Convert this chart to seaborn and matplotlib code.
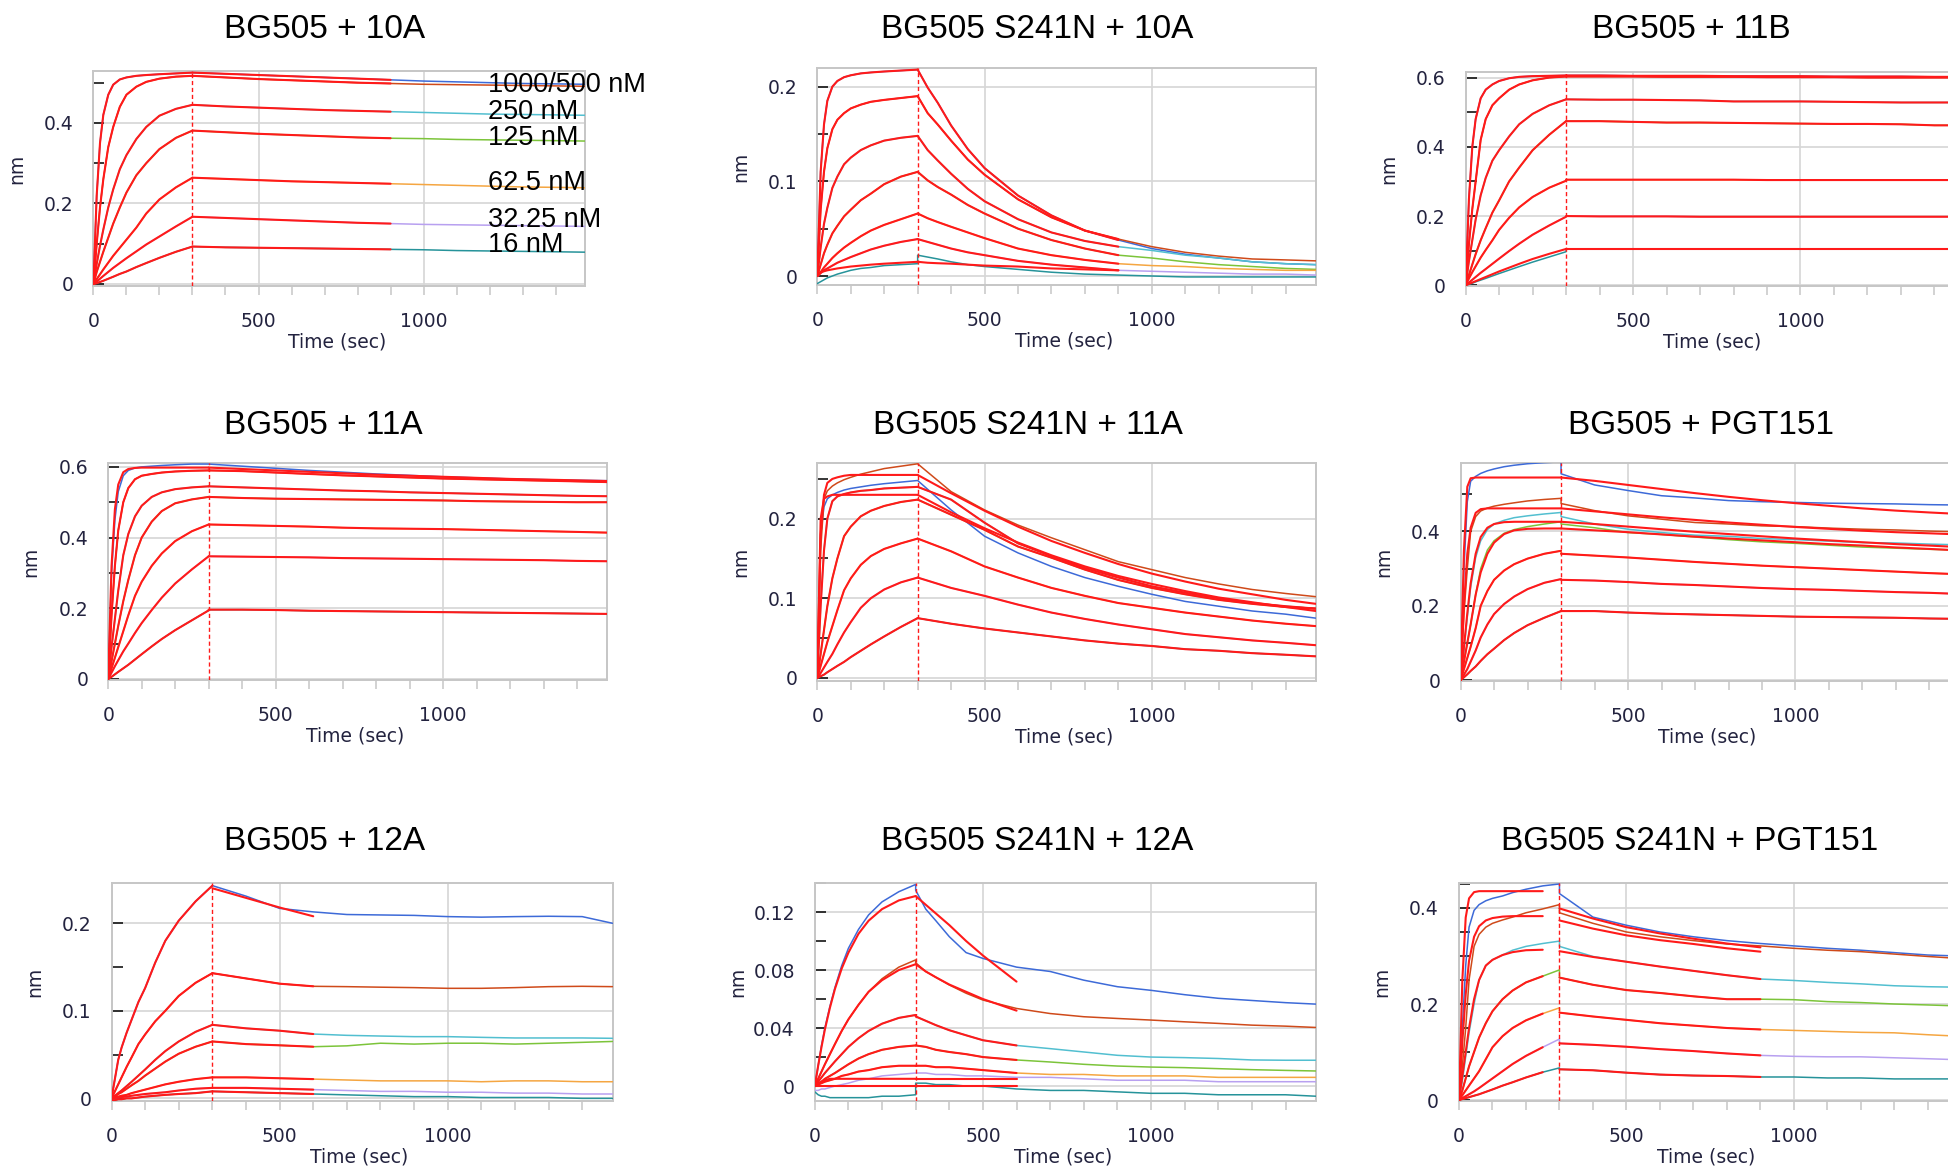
import matplotlib
matplotlib.use("Agg")
import matplotlib.pyplot as plt
from matplotlib.ticker import MultipleLocator, FuncFormatter
import seaborn as sns

# time grids (sec): association phase, then dissociation phase
T_ASSOC = [0, 10, 20, 30, 45, 60, 80, 100, 130, 160, 200, 250, 300]
T_DISSOC = [300, 400, 500, 600, 700, 800, 900, 1000, 1100, 1200, 1300, 1400, 1490]
# finer dissociation grid for the fast off-rate panels
T_DISSOC_FAST = [300, 330, 360, 400, 450, 500, 600, 700, 800, 900, 1000, 1100, 1200, 1300, 1400, 1490]

# curve order in every panel: blue, brown, cyan, green, orange, lavender, teal
CURVE_COLORS = ["#3d6ad8", "#cf4a1a", "#52bfd0", "#7cc43a", "#f5a641", "#b8a0f0", "#26939a"]
FIT_COLOR = "#ff1a1a"
conc_labels = ["1000/500 nM", "250 nM", "125 nM", "62.5 nM", "32.25 nM", "16 nM"]

# ---- BG505 + 10A
bg505_10a_assoc = [
    [0, 0.22, 0.35, 0.42, 0.47, 0.495, 0.508, 0.513, 0.517, 0.519, 0.521, 0.523, 0.525],
    [0, 0.10, 0.19, 0.26, 0.34, 0.39, 0.44, 0.47, 0.49, 0.502, 0.51, 0.515, 0.517],
    [0, 0.05, 0.095, 0.135, 0.19, 0.235, 0.285, 0.32, 0.36, 0.39, 0.418, 0.435, 0.445],
    [0, 0.03, 0.055, 0.08, 0.115, 0.15, 0.19, 0.227, 0.27, 0.30, 0.335, 0.363, 0.381],
    [0, 0.012, 0.024, 0.036, 0.053, 0.07, 0.09, 0.11, 0.14, 0.175, 0.21, 0.24, 0.264],
    [0, 0.006, 0.013, 0.02, 0.03, 0.04, 0.052, 0.064, 0.081, 0.098, 0.118, 0.143, 0.167],
    [0, 0.002, 0.005, 0.008, 0.013, 0.018, 0.025, 0.031, 0.042, 0.052, 0.065, 0.08, 0.093],
]
bg505_10a_dissoc = [
    [0.525, 0.522, 0.519, 0.516, 0.513, 0.51, 0.507, 0.504, 0.502, 0.5, 0.498, 0.497, 0.496],
    [0.517, 0.513, 0.509, 0.506, 0.503, 0.5, 0.498, 0.496, 0.495, 0.494, 0.493, 0.492, 0.491],
    [0.445, 0.441, 0.438, 0.435, 0.432, 0.43, 0.428, 0.426, 0.424, 0.422, 0.421, 0.42, 0.419],
    [0.381, 0.377, 0.373, 0.37, 0.367, 0.364, 0.362, 0.361, 0.359, 0.358, 0.357, 0.356, 0.355],
    [0.264, 0.261, 0.258, 0.255, 0.253, 0.251, 0.249, 0.247, 0.245, 0.243, 0.241, 0.24, 0.239],
    [0.167, 0.164, 0.161, 0.158, 0.155, 0.152, 0.15, 0.148, 0.147, 0.146, 0.145, 0.144, 0.143],
    [0.093, 0.091, 0.09, 0.089, 0.088, 0.087, 0.086, 0.085, 0.083, 0.082, 0.081, 0.08, 0.079],
]
bg505_10a_fits = {}

# ---- BG505 S241N + 10A  (dissociation on T_DISSOC_FAST)
s241n_10a_assoc = [
    [0, 0.11, 0.16, 0.185, 0.2, 0.206, 0.21, 0.212, 0.214, 0.215, 0.216, 0.217, 0.218],
    [0, 0.07, 0.11, 0.135, 0.155, 0.165, 0.172, 0.177, 0.181, 0.184, 0.186, 0.188, 0.19],
    [0, 0.03, 0.055, 0.072, 0.093, 0.105, 0.118, 0.125, 0.133, 0.138, 0.143, 0.146, 0.148],
    [0, 0.012, 0.024, 0.033, 0.045, 0.053, 0.063, 0.07, 0.08, 0.087, 0.097, 0.105, 0.11],
    [0, 0.004, 0.009, 0.013, 0.019, 0.024, 0.03, 0.035, 0.042, 0.048, 0.054, 0.06, 0.066],
    [0, 0.003, 0.006, 0.008, 0.011, 0.014, 0.017, 0.02, 0.024, 0.028, 0.032, 0.036, 0.039],
    [-0.008, -0.006, -0.004, -0.002, 0.0, 0.002, 0.004, 0.006, 0.008, 0.009, 0.011, 0.012, 0.013],
]
s241n_10a_dissoc = [
    [0.218, 0.199, 0.183, 0.159, 0.134, 0.114, 0.085, 0.064, 0.048, 0.038, 0.029, 0.023, 0.019, 0.015, 0.013, 0.012],
    [0.19, 0.172, 0.16, 0.143, 0.123, 0.107, 0.081, 0.062, 0.048, 0.039, 0.031, 0.025, 0.021, 0.018, 0.017, 0.016],
    [0.148, 0.133, 0.122, 0.108, 0.092, 0.079, 0.06, 0.046, 0.037, 0.031, 0.027, 0.022, 0.019, 0.015, 0.013, 0.012],
    [0.11, 0.101, 0.094, 0.086, 0.075, 0.066, 0.05, 0.038, 0.029, 0.022, 0.019, 0.015, 0.012, 0.01, 0.008, 0.007],
    [0.066, 0.061, 0.057, 0.052, 0.046, 0.04, 0.029, 0.022, 0.017, 0.013, 0.011, 0.01, 0.008, 0.007, 0.006, 0.006],
    [0.039, 0.036, 0.033, 0.029, 0.025, 0.022, 0.016, 0.012, 0.009, 0.006, 0.005, 0.004, 0.003, 0.002, 0.002, 0.001],
    [0.022, 0.02, 0.018, 0.015, 0.012, 0.01, 0.007, 0.004, 0.002, 0.001, 0.0, -0.001, -0.001, -0.001, -0.001, -0.001],
]
s241n_10a_fits = {
    6: ([0.003, 0.004, 0.005, 0.006, 0.007, 0.008, 0.009, 0.01, 0.011, 0.012, 0.013, 0.014, 0.015],
        [0.015, 0.014, 0.0135, 0.013, 0.012, 0.011, 0.01, 0.008, 0.007, 0.006]),
}

# ---- BG505 + 11B
bg505_11b_assoc = [
    [0, 0.25, 0.40, 0.48, 0.54, 0.565, 0.58, 0.59, 0.598, 0.602, 0.604, 0.605, 0.606],
    [0, 0.12, 0.22, 0.30, 0.42, 0.48, 0.52, 0.54, 0.565, 0.58, 0.592, 0.60, 0.603],
    [0, 0.07, 0.13, 0.19, 0.26, 0.31, 0.36, 0.39, 0.43, 0.465, 0.495, 0.52, 0.537],
    [0, 0.03, 0.06, 0.09, 0.13, 0.165, 0.21, 0.245, 0.30, 0.34, 0.39, 0.435, 0.474],
    [0, 0.02, 0.038, 0.055, 0.08, 0.102, 0.13, 0.16, 0.195, 0.225, 0.255, 0.282, 0.302],
    [0, 0.008, 0.016, 0.024, 0.036, 0.047, 0.062, 0.077, 0.099, 0.12, 0.146, 0.173, 0.198],
    [0, 0.003, 0.006, 0.01, 0.015, 0.02, 0.027, 0.034, 0.044, 0.054, 0.067, 0.082, 0.097],
]
bg505_11b_dissoc = [
    [0.606, 0.606, 0.605, 0.605, 0.605, 0.604, 0.604, 0.604, 0.603, 0.603, 0.603, 0.602, 0.602],
    [0.603, 0.603, 0.603, 0.602, 0.602, 0.602, 0.601, 0.601, 0.601, 0.6, 0.6, 0.6, 0.6],
    [0.537, 0.536, 0.536, 0.535, 0.534, 0.531, 0.531, 0.531, 0.53, 0.529, 0.528, 0.528, 0.528],
    [0.474, 0.474, 0.472, 0.47, 0.47, 0.469, 0.468, 0.467, 0.466, 0.466, 0.465, 0.462, 0.462],
    [0.305, 0.305, 0.305, 0.305, 0.305, 0.305, 0.304, 0.304, 0.304, 0.304, 0.304, 0.304, 0.304],
    [0.2, 0.199, 0.199, 0.199, 0.198, 0.198, 0.198, 0.198, 0.198, 0.198, 0.198, 0.198, 0.198],
    [0.105, 0.105, 0.105, 0.105, 0.105, 0.105, 0.105, 0.105, 0.105, 0.105, 0.105, 0.105, 0.105],
]
bg505_11b_fits = {
    6: ([0, 0.004, 0.008, 0.012, 0.018, 0.024, 0.032, 0.04, 0.051, 0.062, 0.076, 0.091, 0.105],
        bg505_11b_dissoc[6]),
}

# ---- BG505 + 11A
bg505_11a_assoc = [
    [0, 0.30, 0.45, 0.53, 0.575, 0.59, 0.597, 0.60, 0.602, 0.604, 0.606, 0.608, 0.608],
    [0, 0.18, 0.32, 0.42, 0.50, 0.54, 0.565, 0.575, 0.58, 0.584, 0.587, 0.589, 0.59],
    [0, 0.09, 0.17, 0.25, 0.35, 0.41, 0.46, 0.49, 0.515, 0.528, 0.537, 0.542, 0.545],
    [0, 0.05, 0.10, 0.15, 0.22, 0.28, 0.35, 0.40, 0.445, 0.475, 0.497, 0.508, 0.515],
    [0, 0.03, 0.06, 0.09, 0.135, 0.18, 0.235, 0.275, 0.32, 0.355, 0.39, 0.418, 0.437],
    [0, 0.018, 0.036, 0.053, 0.078, 0.10, 0.13, 0.158, 0.195, 0.23, 0.27, 0.31, 0.347],
    [0, 0.006, 0.013, 0.02, 0.03, 0.04, 0.055, 0.07, 0.092, 0.113, 0.138, 0.166, 0.194],
]
bg505_11a_dissoc = [
    [0.608, 0.602, 0.596, 0.59, 0.585, 0.58, 0.576, 0.572, 0.569, 0.566, 0.564, 0.562, 0.561],
    [0.59, 0.588, 0.584, 0.58, 0.576, 0.573, 0.57, 0.567, 0.565, 0.563, 0.561, 0.559, 0.557],
    [0.545, 0.542, 0.539, 0.536, 0.533, 0.531, 0.528, 0.526, 0.524, 0.522, 0.52, 0.518, 0.517],
    [0.515, 0.512, 0.51, 0.509, 0.508, 0.507, 0.506, 0.505, 0.503, 0.502, 0.501, 0.5, 0.5],
    [0.437, 0.435, 0.433, 0.431, 0.428, 0.426, 0.425, 0.424, 0.422, 0.42, 0.418, 0.416, 0.414],
    [0.347, 0.346, 0.345, 0.344, 0.342, 0.341, 0.34, 0.339, 0.338, 0.337, 0.336, 0.334, 0.333],
    [0.196, 0.196, 0.195, 0.193, 0.192, 0.191, 0.19, 0.189, 0.188, 0.187, 0.186, 0.185, 0.184],
]
bg505_11a_fits = {
    0: ([0, 0.32, 0.48, 0.55, 0.585, 0.594, 0.597, 0.598, 0.598, 0.598, 0.598, 0.598, 0.598],
        [0.598, 0.594, 0.59, 0.586, 0.582, 0.578, 0.575, 0.572, 0.569, 0.566, 0.564, 0.562, 0.56]),
}

# ---- BG505 S241N + 11A
s241n_11a_assoc = [
    [0, 0.18, 0.215, 0.225, 0.23, 0.233, 0.236, 0.238, 0.24, 0.242, 0.244, 0.246, 0.248],
    [0, 0.16, 0.225, 0.235, 0.241, 0.245, 0.249, 0.252, 0.256, 0.259, 0.263, 0.266, 0.269],
    [0, 0.09, 0.16, 0.20, 0.222, 0.228, 0.231, 0.233, 0.235, 0.236, 0.238, 0.239, 0.24],
    [0, 0.03, 0.06, 0.09, 0.125, 0.15, 0.178, 0.19, 0.203, 0.21, 0.216, 0.221, 0.224],
    [0, 0.015, 0.03, 0.045, 0.065, 0.085, 0.11, 0.125, 0.142, 0.153, 0.162, 0.169, 0.175],
    [0, 0.006, 0.013, 0.02, 0.03, 0.042, 0.057, 0.07, 0.088, 0.10, 0.111, 0.12, 0.126],
    [0, 0.002, 0.004, 0.007, 0.011, 0.015, 0.02, 0.026, 0.034, 0.042, 0.052, 0.064, 0.075],
]
s241n_11a_dissoc = [
    [0.248, 0.211, 0.178, 0.157, 0.14, 0.126, 0.115, 0.105, 0.096, 0.09, 0.084, 0.08, 0.075],
    [0.269, 0.234, 0.211, 0.192, 0.176, 0.161, 0.146, 0.136, 0.126, 0.118, 0.111, 0.106, 0.102],
    [0.24, 0.224, 0.195, 0.169, 0.153, 0.138, 0.126, 0.115, 0.107, 0.10, 0.094, 0.09, 0.087],
    [0.224, 0.205, 0.186, 0.165, 0.151, 0.136, 0.123, 0.113, 0.105, 0.098, 0.093, 0.089, 0.087],
    [0.175, 0.159, 0.14, 0.126, 0.113, 0.103, 0.094, 0.088, 0.082, 0.077, 0.072, 0.068, 0.065],
    [0.126, 0.113, 0.103, 0.092, 0.082, 0.074, 0.067, 0.061, 0.055, 0.051, 0.047, 0.044, 0.041],
    [0.075, 0.068, 0.062, 0.057, 0.052, 0.047, 0.043, 0.04, 0.036, 0.034, 0.031, 0.029, 0.027],
]
s241n_11a_fits = {
    0: ([0, 0.2, 0.225, 0.228, 0.23, 0.23, 0.23, 0.23, 0.23, 0.23, 0.23, 0.23, 0.23],
        [0.23, 0.208, 0.188, 0.17, 0.154, 0.14, 0.128, 0.118, 0.109, 0.101, 0.095, 0.089, 0.084]),
    1: ([0, 0.18, 0.23, 0.245, 0.25, 0.252, 0.254, 0.255, 0.255, 0.255, 0.255, 0.255, 0.255],
        [0.255, 0.232, 0.21, 0.19, 0.172, 0.157, 0.143, 0.131, 0.121, 0.112, 0.105, 0.098, 0.093]),
}

# ---- BG505 + PGT151
bg505_pgt151_assoc = [
    [0, 0.30, 0.48, 0.535, 0.548, 0.556, 0.563, 0.568, 0.574, 0.578, 0.582, 0.585, 0.587],
    [0, 0.18, 0.30, 0.40, 0.44, 0.455, 0.463, 0.468, 0.473, 0.477, 0.482, 0.486, 0.489],
    [0, 0.08, 0.17, 0.25, 0.33, 0.375, 0.405, 0.42, 0.43, 0.437, 0.442, 0.447, 0.451],
    [0, 0.05, 0.10, 0.15, 0.23, 0.30, 0.35, 0.375, 0.395, 0.405, 0.413, 0.42, 0.426],
    [0, 0.03, 0.06, 0.09, 0.14, 0.20, 0.24, 0.27, 0.295, 0.312, 0.327, 0.34, 0.348],
    [0, 0.015, 0.03, 0.05, 0.08, 0.115, 0.15, 0.178, 0.205, 0.225, 0.245, 0.262, 0.272],
    [0, 0.008, 0.016, 0.025, 0.037, 0.052, 0.07, 0.085, 0.108, 0.127, 0.148, 0.168, 0.186],
]
bg505_pgt151_dissoc = [
    [0.555, 0.525, 0.51, 0.496, 0.49, 0.483, 0.48, 0.478, 0.476, 0.475, 0.474, 0.472, 0.471],
    [0.475, 0.456, 0.442, 0.433, 0.424, 0.42, 0.415, 0.413, 0.409, 0.406, 0.404, 0.401, 0.399],
    [0.44, 0.42, 0.406, 0.397, 0.39, 0.387, 0.381, 0.378, 0.374, 0.37, 0.369, 0.366, 0.364],
    [0.42, 0.41, 0.397, 0.392, 0.385, 0.378, 0.372, 0.368, 0.363, 0.358, 0.355, 0.352, 0.35],
    [0.34, 0.335, 0.33, 0.324, 0.318, 0.313, 0.308, 0.304, 0.30, 0.296, 0.292, 0.288, 0.285],
    [0.27, 0.268, 0.264, 0.259, 0.256, 0.252, 0.248, 0.245, 0.243, 0.24, 0.237, 0.235, 0.232],
    [0.186, 0.186, 0.182, 0.179, 0.177, 0.175, 0.173, 0.171, 0.17, 0.169, 0.168, 0.166, 0.165],
]
bg505_pgt151_fits = {
    0: ([0, 0.35, 0.52, 0.543, 0.545, 0.545, 0.545, 0.545, 0.545, 0.545, 0.545, 0.545, 0.545],
        [0.545, 0.536, 0.525, 0.514, 0.503, 0.493, 0.484, 0.476, 0.469, 0.462, 0.456, 0.451, 0.447]),
    1: ([0, 0.2, 0.34, 0.41, 0.45, 0.46, 0.462, 0.462, 0.462, 0.462, 0.462, 0.462, 0.462],
        [0.462, 0.454, 0.446, 0.438, 0.431, 0.424, 0.418, 0.412, 0.407, 0.402, 0.398, 0.395, 0.392]),
    2: ([0, 0.09, 0.18, 0.26, 0.34, 0.385, 0.41, 0.42, 0.425, 0.426, 0.426, 0.426, 0.426],
        [0.426, 0.42, 0.413, 0.406, 0.399, 0.393, 0.387, 0.381, 0.376, 0.371, 0.366, 0.362, 0.358]),
    3: ([0, 0.05, 0.1, 0.15, 0.23, 0.29, 0.34, 0.37, 0.393, 0.403, 0.407, 0.408, 0.408],
        [0.408, 0.403, 0.398, 0.392, 0.386, 0.381, 0.376, 0.371, 0.366, 0.362, 0.357, 0.353, 0.349]),
}

# ---- BG505 + 12A
bg505_12a_assoc = [
    [0, 0.022, 0.044, 0.058, 0.075, 0.09, 0.11, 0.126, 0.155, 0.18, 0.203, 0.225, 0.243],
    [0, 0.008, 0.016, 0.024, 0.036, 0.047, 0.062, 0.073, 0.088, 0.1, 0.117, 0.132, 0.143],
    [0, 0.003, 0.006, 0.009, 0.014, 0.019, 0.026, 0.033, 0.044, 0.054, 0.065, 0.076, 0.084],
    [0, 0.002, 0.005, 0.007, 0.011, 0.015, 0.02, 0.026, 0.034, 0.042, 0.051, 0.059, 0.065],
    [0, 0.001, 0.002, 0.003, 0.004, 0.006, 0.008, 0.01, 0.013, 0.016, 0.019, 0.022, 0.024],
    [0, 0.0005, 0.001, 0.0015, 0.002, 0.003, 0.004, 0.005, 0.006, 0.007, 0.009, 0.011, 0.012],
    [-0.002, -0.002, -0.001, -0.001, 0.0, 0.0, 0.001, 0.002, 0.003, 0.004, 0.005, 0.006, 0.008],
]
bg505_12a_dissoc = [
    [0.243, 0.231, 0.217, 0.213, 0.21, 0.2095, 0.209, 0.2076, 0.207, 0.2076, 0.208, 0.2076, 0.2],
    [0.143, 0.137, 0.131, 0.128, 0.1276, 0.127, 0.1265, 0.1257, 0.1257, 0.1265, 0.1276, 0.128, 0.1276],
    [0.084, 0.08, 0.0773, 0.0735, 0.072, 0.0712, 0.0705, 0.0705, 0.0697, 0.069, 0.069, 0.069, 0.0686],
    [0.065, 0.062, 0.0606, 0.059, 0.06, 0.063, 0.062, 0.063, 0.063, 0.062, 0.063, 0.064, 0.065],
    [0.024, 0.024, 0.023, 0.022, 0.021, 0.02, 0.02, 0.02, 0.019, 0.02, 0.02, 0.019, 0.019],
    [0.012, 0.012, 0.011, 0.01, 0.009, 0.008, 0.008, 0.007, 0.007, 0.006, 0.006, 0.005, 0.005],
    [0.008, 0.007, 0.006, 0.005, 0.004, 0.003, 0.002, 0.002, 0.001, 0.001, 0.001, 0.0, 0.0],
]
bg505_12a_fits = {
    0: (bg505_12a_assoc[0], [0.24, 0.229, 0.218, 0.208]),
}

# ---- BG505 S241N + 12A  (dissociation on T_DISSOC_FAST)
s241n_12a_assoc = [
    [0, 0.014, 0.028, 0.04, 0.055, 0.068, 0.083, 0.095, 0.108, 0.118, 0.127, 0.134, 0.139],
    [0, 0.005, 0.01, 0.015, 0.022, 0.029, 0.038, 0.046, 0.056, 0.065, 0.074, 0.082, 0.087],
    [0, 0.003, 0.006, 0.009, 0.013, 0.017, 0.022, 0.027, 0.033, 0.038, 0.043, 0.047, 0.049],
    [0, 0.0015, 0.003, 0.005, 0.007, 0.009, 0.012, 0.015, 0.019, 0.022, 0.025, 0.027, 0.028],
    [0, 0.001, 0.002, 0.003, 0.004, 0.005, 0.007, 0.008, 0.01, 0.011, 0.013, 0.014, 0.014],
    [-0.003, -0.003, -0.002, -0.002, -0.001, 0.0, 0.001, 0.002, 0.004, 0.005, 0.007, 0.008, 0.009],
    [-0.004, -0.006, -0.007, -0.007, -0.008, -0.008, -0.008, -0.008, -0.008, -0.008, -0.007, -0.007, -0.006],
]
s241n_12a_dissoc = [
    [0.135, 0.122, 0.114, 0.103, 0.092, 0.088, 0.082, 0.079, 0.073, 0.0685, 0.066, 0.063, 0.0605, 0.059, 0.0575, 0.0565],
    [0.085, 0.079, 0.075, 0.0697, 0.064, 0.0593, 0.0535, 0.05, 0.0478, 0.0466, 0.0455, 0.0443, 0.0432, 0.042, 0.0413, 0.0404],
    [0.048, 0.045, 0.042, 0.0385, 0.035, 0.0316, 0.028, 0.0258, 0.0235, 0.0212, 0.02, 0.0196, 0.019, 0.018, 0.0178, 0.0178],
    [0.028, 0.027, 0.025, 0.0235, 0.022, 0.02, 0.018, 0.0166, 0.015, 0.0138, 0.0131, 0.0127, 0.012, 0.0113, 0.0108, 0.0104],
    [0.014, 0.014, 0.013, 0.013, 0.012, 0.011, 0.009, 0.008, 0.008, 0.007, 0.007, 0.007, 0.006, 0.006, 0.006, 0.006],
    [0.009, 0.009, 0.008, 0.008, 0.007, 0.007, 0.006, 0.006, 0.005, 0.004, 0.004, 0.004, 0.003, 0.003, 0.003, 0.003],
    [0.002, 0.002, 0.001, 0.001, 0.0, 0.0, -0.002, -0.003, -0.003, -0.004, -0.005, -0.005, -0.006, -0.006, -0.006, -0.007],
]
s241n_12a_fits = {
    0: ([0, 0.014, 0.027, 0.039, 0.054, 0.067, 0.081, 0.092, 0.105, 0.114, 0.122, 0.128, 0.131],
        [0.131, 0.125, 0.119, 0.111, 0.1, 0.09, 0.072]),
    1: ([0, 0.005, 0.01, 0.015, 0.022, 0.029, 0.038, 0.046, 0.056, 0.065, 0.073, 0.08, 0.084],
        [0.084, 0.079, 0.075, 0.07, 0.065, 0.06, 0.052]),
    5: ([0, 0.002, 0.003, 0.004, 0.005, 0.005, 0.005, 0.005, 0.005, 0.005, 0.005, 0.005, 0.005],
        [0.005, 0.005, 0.005, 0.005, 0.005, 0.005, 0.005]),
    6: ([0.0, 0.0, 0.0, 0.0, 0.0, 0.0, 0.0, 0.0, 0.0, 0.0, 0.0, 0.0, 0.0],
        [0.0, 0.0, 0.0, 0.0, 0.0, 0.0, 0.0]),
}

# ---- BG505 S241N + PGT151
s241n_pgt151_assoc = [
    [0, 0.15, 0.28, 0.36, 0.395, 0.407, 0.415, 0.42, 0.425, 0.432, 0.439, 0.446, 0.45],
    [0, 0.07, 0.15, 0.25, 0.32, 0.345, 0.36, 0.368, 0.375, 0.381, 0.39, 0.398, 0.407],
    [0, 0.04, 0.09, 0.14, 0.2, 0.25, 0.28, 0.292, 0.302, 0.312, 0.32, 0.326, 0.331],
    [0, 0.02, 0.045, 0.07, 0.10, 0.13, 0.16, 0.185, 0.21, 0.228, 0.245, 0.258, 0.271],
    [0, 0.01, 0.02, 0.03, 0.045, 0.06, 0.085, 0.11, 0.133, 0.15, 0.166, 0.18, 0.192],
    [0, 0.004, 0.008, 0.012, 0.018, 0.025, 0.035, 0.045, 0.06, 0.075, 0.092, 0.11, 0.127],
    [0, 0.002, 0.004, 0.006, 0.009, 0.012, 0.017, 0.022, 0.03, 0.037, 0.047, 0.058, 0.067],
]
s241n_pgt151_dissoc = [
    [0.43, 0.381, 0.364, 0.35, 0.34, 0.332, 0.326, 0.321, 0.316, 0.312, 0.307, 0.302, 0.30],
    [0.39, 0.368, 0.35, 0.34, 0.332, 0.325, 0.321, 0.316, 0.312, 0.309, 0.304, 0.299, 0.295],
    [0.32, 0.299, 0.288, 0.278, 0.269, 0.26, 0.252, 0.249, 0.245, 0.242, 0.238, 0.236, 0.235],
    [0.255, 0.24, 0.229, 0.223, 0.216, 0.21, 0.21, 0.209, 0.205, 0.203, 0.2, 0.198, 0.196],
    [0.182, 0.174, 0.167, 0.16, 0.155, 0.15, 0.147, 0.145, 0.143, 0.141, 0.14, 0.136, 0.133],
    [0.118, 0.115, 0.111, 0.106, 0.102, 0.097, 0.093, 0.091, 0.09, 0.09, 0.088, 0.086, 0.084],
    [0.064, 0.062, 0.057, 0.053, 0.051, 0.05, 0.048, 0.048, 0.046, 0.046, 0.044, 0.044, 0.044],
]
s241n_pgt151_fits = {
    0: ([0, 0.25, 0.38, 0.42, 0.433, 0.435, 0.435, 0.435, 0.435, 0.435, 0.435, 0.435],
        [0.399, 0.378, 0.36, 0.347, 0.336, 0.326, 0.318]),
    1: ([0, 0.12, 0.22, 0.29, 0.34, 0.362, 0.374, 0.379, 0.382, 0.383, 0.383, 0.383],
        [0.374, 0.357, 0.343, 0.333, 0.325, 0.316, 0.309]),
    2: ([0, 0.05, 0.1, 0.15, 0.21, 0.25, 0.28, 0.292, 0.302, 0.308, 0.312, 0.313],
        [0.31, 0.298, 0.288, 0.278, 0.269, 0.26, 0.252]),
}

W, H = 1948, 1169
LABEL_COLOR = "#23233f"
SPINE_COLOR = "#c6c6c6"

# panel layout: title, data, fits, axes box in px (left, top, width, height),
# y-limits, y major/minor step, number of fitted points (assoc, dissoc), title centre px
panels = [
    dict(title="BG505 + 10A", assoc=bg505_10a_assoc, dissoc=bg505_10a_dissoc, fits=bg505_10a_fits,
         tdis=T_DISSOC, box=(93.4, 71, 492, 215), ylim=(-0.005, 0.529), major=0.2, minor=0.1,
         nfit=(13, 7), tpos=(324.6, 29)),
    dict(title="BG505 S241N + 10A", assoc=s241n_10a_assoc, dissoc=s241n_10a_dissoc, fits=s241n_10a_fits,
         tdis=T_DISSOC_FAST, box=(817.3, 68, 498.4, 217), ylim=(-0.0095, 0.2197), major=0.1, minor=0.05,
         nfit=(13, 10), tpos=(1037, 29)),
    dict(title="BG505 + 11B", assoc=bg505_11b_assoc, dissoc=bg505_11b_dissoc, fits=bg505_11b_fits,
         tdis=T_DISSOC, box=(1465.6, 72, 499, 214), ylim=(-0.002, 0.616), major=0.2, minor=0.1,
         nfit=(13, 13), tpos=(1691, 29)),
    dict(title="BG505 + 11A", assoc=bg505_11a_assoc, dissoc=bg505_11a_dissoc, fits=bg505_11a_fits,
         tdis=T_DISSOC, box=(108.2, 463, 499, 217), ylim=(-0.003, 0.611), major=0.2, minor=0.1,
         nfit=(13, 13), tpos=(323.5, 426)),
    dict(title="BG505 S241N + 11A", assoc=s241n_11a_assoc, dissoc=s241n_11a_dissoc, fits=s241n_11a_fits,
         tdis=T_DISSOC, box=(817.3, 463, 498.4, 218), ylim=(-0.004, 0.270), major=0.1, minor=0.05,
         nfit=(13, 13), tpos=(1027.5, 426)),
    dict(title="BG505 + PGT151", assoc=bg505_pgt151_assoc, dissoc=bg505_pgt151_dissoc, fits=bg505_pgt151_fits,
         tdis=T_DISSOC, box=(1460.6, 463, 499, 218), ylim=(-0.002, 0.584), major=0.2, minor=0.1,
         nfit=(13, 13), tpos=(1701, 426)),
    dict(title="BG505 + 12A", assoc=bg505_12a_assoc, dissoc=bg505_12a_dissoc, fits=bg505_12a_fits,
         tdis=T_DISSOC, box=(111.5, 883, 501, 218), ylim=(-0.003, 0.246), major=0.1, minor=0.05,
         nfit=(13, 4), tpos=(324.6, 842)),
    dict(title="BG505 S241N + 12A", assoc=s241n_12a_assoc, dissoc=s241n_12a_dissoc, fits=s241n_12a_fits,
         tdis=T_DISSOC_FAST, box=(814.8, 883, 501, 218), ylim=(-0.0103, 0.140), major=0.04, minor=0.02,
         nfit=(13, 7), tpos=(1037, 842)),
    dict(title="BG505 S241N + PGT151", assoc=s241n_pgt151_assoc, dissoc=s241n_pgt151_dissoc,
         fits=s241n_pgt151_fits, tdis=T_DISSOC, box=(1459, 883, 499, 218), ylim=(-0.002, 0.452),
         major=0.2, minor=0.05, nfit=(12, 7), tpos=(1690, 842)),
]


def fmt_tick(v, pos):
    if abs(v) < 1e-9:
        return "0"
    return f"{round(v, 4):g}"


def draw_panel(fig, p):
    left, top, width, height = p["box"]
    ax = fig.add_axes([left / W, (H - top - height) / H, width / W, height / H])
    ax.set_axisbelow(True)
    tdis = p["tdis"]

    # measured sensorgrams
    for i, color in enumerate(CURVE_COLORS):
        sns.lineplot(x=T_ASSOC + tdis, y=p["assoc"][i] + p["dissoc"][i], ax=ax,
                     color=color, lw=1.1, sort=False, estimator=None, zorder=3)

    # global fits in red
    na, nd = p["nfit"]
    for i in range(len(CURVE_COLORS)):
        fa, fd = p["fits"].get(i, (p["assoc"][i], p["dissoc"][i]))
        ka, kd = min(na, len(fa)), min(nd, len(fd))
        sns.lineplot(x=T_ASSOC[:ka], y=fa[:ka], ax=ax, color=FIT_COLOR, lw=1.5,
                     sort=False, estimator=None, zorder=4)
        sns.lineplot(x=tdis[:kd], y=fd[:kd], ax=ax, color=FIT_COLOR, lw=1.5,
                     sort=False, estimator=None, zorder=4)

    # association -> dissociation switch
    ax.axvline(tdis[0], color=FIT_COLOR, lw=1.0, ls=(0, (3, 2)), zorder=5)

    ax.set_xlim(0, 1490)
    ax.set_ylim(*p["ylim"])
    ax.xaxis.set_major_locator(MultipleLocator(500))
    ax.xaxis.set_minor_locator(MultipleLocator(100))
    ax.yaxis.set_major_locator(MultipleLocator(p["major"]))
    ax.yaxis.set_minor_locator(MultipleLocator(p["minor"]))
    ax.yaxis.set_major_formatter(FuncFormatter(fmt_tick))

    ax.grid(True, which="major", color="#d6d6d6", lw=1.2)
    for s in ax.spines.values():
        s.set_color(SPINE_COLOR)
        s.set_linewidth(1.4)

    ax.tick_params(axis="y", which="both", left=True, right=False, direction="in", length=8,
                   width=1.1, color="black", pad=14.4, labelsize=13.5, labelcolor=LABEL_COLOR)
    ax.tick_params(axis="x", which="both", bottom=True, top=False, direction="out", length=6.5,
                   width=1.1, color=SPINE_COLOR, pad=12.5, labelsize=13.5, labelcolor=LABEL_COLOR)

    ax.set_xlabel("Time (sec)", fontsize=13.5, color=LABEL_COLOR)
    ax.xaxis.label.set_va("center")
    ax.xaxis.set_label_coords(0.495, -56 / height)
    ax.set_ylabel("nm", fontsize=13.5, color=LABEL_COLOR)
    ax.yaxis.label.set_va("center")
    ax.yaxis.set_label_coords(-77 / width, 0.5 + 10 / height)

    tx, ty = p["tpos"]
    fig.text(tx / W, 1 - ty / H, p["title"], ha="center", va="center",
             fontsize=24, family="Liberation Sans", color="black")
    return ax


sns.set_style("white")
plt.rcParams["font.family"] = ["DejaVu Sans"]

fig = plt.figure(figsize=(W / 100, H / 100), dpi=100)
axes = [draw_panel(fig, p) for p in panels]

# concentration labels next to the first panel
label_y = [0.935, 0.811, 0.688, 0.479, 0.307, 0.191]
for lab, yy in zip(conc_labels, label_y):
    axes[0].text(0.802, yy, lab, transform=axes[0].transAxes, ha="left", va="center",
                 fontsize=19.5, family="Liberation Sans", color="black", zorder=6)

fig.savefig("out.png", dpi=100)
